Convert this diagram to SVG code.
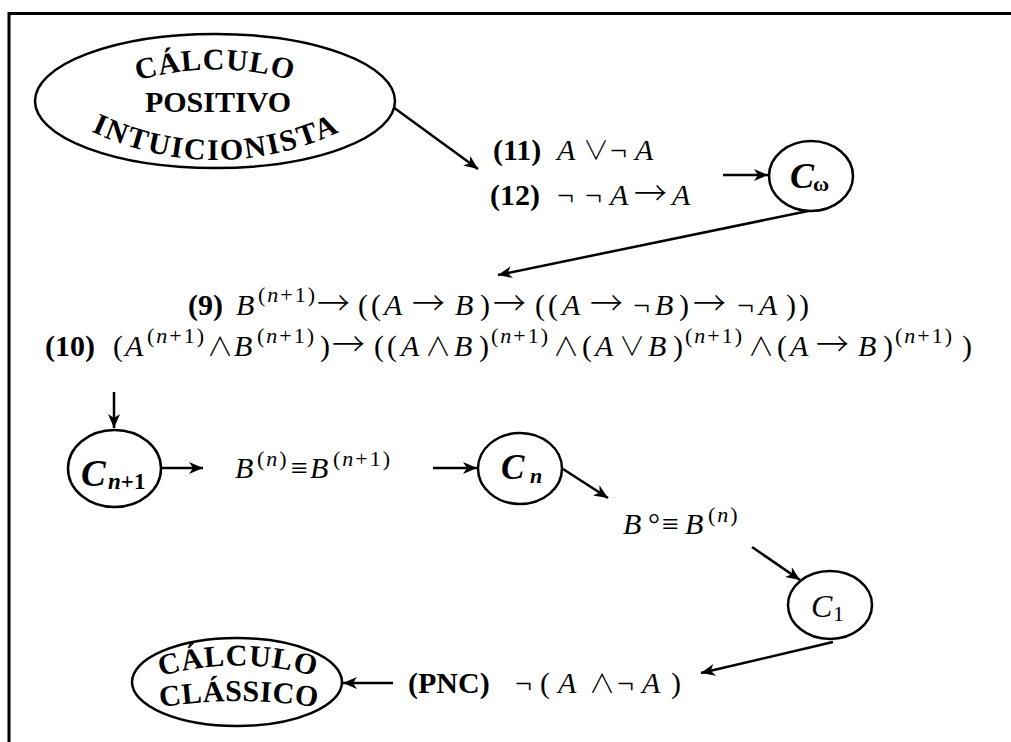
<svg xmlns="http://www.w3.org/2000/svg" width="1011" height="742" viewBox="0 0 1011 742">
<defs>
<marker id="ah" markerUnits="userSpaceOnUse" markerWidth="15" markerHeight="12" refX="14" refY="6" orient="auto">
<path d="M0,0 L14,6 L0,12 L4,6 z" fill="#000"/>
</marker>
<path id="p1" d="M126,84 Q215,55 304,84"/>
<path id="p2" d="M84,128 Q215,192 348,128"/>
<path id="p3" d="M158,677 Q238,654 318,677"/>
<path id="p4" d="M152,709 Q238,693 326,709"/>
</defs>
<style>
.t{font-family:"Liberation Serif","Times New Roman",serif;fill:#000;font-size:30px}
.b{font-weight:bold}
.i{font-style:italic}
.s{font-size:22px;letter-spacing:2px}
.op{font-family:"Noto Sans CJK JP","Noto Sans CJK SC","DejaVu Sans",sans-serif;font-weight:300;font-style:normal;font-size:26px}
.ar{font-family:"Noto Sans CJK JP","Noto Sans CJK SC","DejaVu Sans",sans-serif;font-weight:300;font-style:normal;font-size:33px}
.ln{stroke:#000;stroke-width:2.5;fill:none;marker-end:url(#ah)}
.nd{fill:#fff;stroke:#000;stroke-width:2.5}
</style>
<rect width="1011" height="742" fill="#fff"/>
<path d="M9,742 V13.5 H1011" fill="none" stroke="#000" stroke-width="3"/>

<g id="connectors">
<line class="ln" x1="393" y1="107" x2="478" y2="169"/>
<line class="ln" x1="723" y1="175" x2="768" y2="175"/>
<line class="ln" x1="813" y1="210" x2="498" y2="275"/>
<line class="ln" x1="114" y1="392" x2="114" y2="428"/>
<line class="ln" x1="161" y1="468" x2="203" y2="468"/>
<line class="ln" x1="433" y1="468" x2="477" y2="468"/>
<line class="ln" x1="563" y1="469" x2="608" y2="498"/>
<line class="ln" x1="752" y1="547" x2="800" y2="580"/>
<line class="ln" x1="833" y1="642" x2="701" y2="673"/>
<line class="ln" x1="393" y1="683" x2="343" y2="683"/>
</g>

<g id="node-intuicionista">
<ellipse class="nd" cx="215" cy="101" rx="180" ry="67"/>
<text class="t b" style="letter-spacing:1px"><textPath href="#p1" startOffset="50%" text-anchor="middle">CÁLCULO</textPath></text>
<text class="t b" x="218" y="112" text-anchor="middle">POSITIVO</text>
<text class="t b" style="letter-spacing:2px"><textPath href="#p2" startOffset="50%" text-anchor="middle">INTUICIONISTA</textPath></text>
</g>

<g id="axioms-11-12">
<text class="t" y="160"><tspan class="b" x="493">(11)</tspan><tspan class="i" x="557">A</tspan><tspan class="op" x="583">∨</tspan><tspan x="610">¬</tspan><tspan class="i" x="635">A</tspan></text>
<text class="t" y="205"><tspan class="b" x="490">(12)</tspan><tspan x="557">¬</tspan><tspan x="585">¬</tspan><tspan class="i" x="610">A</tspan><tspan class="ar" x="634">→</tspan><tspan class="i" x="672">A</tspan></text>
</g>

<g id="node-c-omega">
<ellipse class="nd" cx="811" cy="176" rx="42" ry="35"/>
<text class="t b i" x="790" y="188" style="font-size:36px">C</text>
<text class="t b" x="813" y="191" style="font-size:22px">ω</text>
</g>

<g id="axioms-9-10">
<text class="t" y="315"><tspan class="b" x="188">(9)</tspan><tspan class="i" x="236">B</tspan><tspan class="s" x="258" y="302">(<tspan class="i">n</tspan>+1)</tspan><tspan class="ar" x="317" y="315">→</tspan><tspan x="358">(</tspan><tspan x="371">(</tspan><tspan class="i" x="384">A</tspan><tspan class="ar" x="412">→</tspan><tspan class="i" x="455">B</tspan><tspan x="480">)</tspan><tspan class="ar" x="493">→</tspan><tspan x="535">(</tspan><tspan x="548">(</tspan><tspan class="i" x="562">A</tspan><tspan class="ar" x="590">→</tspan><tspan x="633">¬</tspan><tspan class="i" x="655">B</tspan><tspan x="679">)</tspan><tspan class="ar" x="693">→</tspan><tspan x="737">¬</tspan><tspan class="i" x="759">A</tspan><tspan x="786">)</tspan><tspan x="799">)</tspan></text>
<text class="t" y="356"><tspan class="b" x="45">(10)</tspan><tspan x="113">(</tspan><tspan class="i" x="125">A</tspan><tspan class="s" x="147" y="343">(<tspan class="i">n</tspan>+1)</tspan><tspan class="op" x="207" y="356">∧</tspan><tspan class="i" x="234">B</tspan><tspan class="s" x="257" y="343">(<tspan class="i">n</tspan>+1)</tspan><tspan x="320" y="356">)</tspan><tspan class="ar" x="332">→</tspan><tspan x="374">(</tspan><tspan x="387">(</tspan><tspan class="i" x="401">A</tspan><tspan class="op" x="425">∧</tspan><tspan class="i" x="454">B</tspan><tspan x="479">)</tspan><tspan class="s" x="491" y="343">(<tspan class="i">n</tspan>+1)</tspan><tspan class="op" x="553" y="356">∧</tspan><tspan x="582">(</tspan><tspan class="i" x="595">A</tspan><tspan class="op" x="619">∨</tspan><tspan class="i" x="648">B</tspan><tspan x="673">)</tspan><tspan class="s" x="685" y="343">(<tspan class="i">n</tspan>+1)</tspan><tspan class="op" x="748" y="356">∧</tspan><tspan x="777">(</tspan><tspan class="i" x="790">A</tspan><tspan class="ar" x="816">→</tspan><tspan class="i" x="858">B</tspan><tspan x="883">)</tspan><tspan class="s" x="895" y="343">(<tspan class="i">n</tspan>+1)</tspan><tspan x="962" y="356">)</tspan></text>
</g>

<g id="node-c-n1">
<ellipse class="nd" cx="114.5" cy="468.5" rx="46.5" ry="38.5"/>
<text class="t b i" x="81" y="486" style="font-size:37px">C</text>
<text class="t b" x="108" y="489" style="font-size:23px"><tspan class="i">n</tspan>+1</text>
</g>

<g id="eq-bn">
<text class="t" y="478"><tspan class="i" x="235">B</tspan><tspan class="s" x="257" y="466">(<tspan class="i">n</tspan>)</tspan><tspan x="291" y="478">≡</tspan><tspan class="i" x="310">B</tspan><tspan class="s" x="333" y="466">(<tspan class="i">n</tspan>+1)</tspan></text>
</g>

<g id="node-c-n">
<ellipse class="nd" cx="520" cy="468.5" rx="42" ry="35.5"/>
<text class="t b i" x="501" y="479" style="font-size:35px">C</text>
<text class="t b i" x="530" y="483" style="font-size:22px">n</text>
</g>

<g id="eq-bcirc">
<text class="t" y="534"><tspan class="i" x="623">B</tspan><tspan x="648">°</tspan><tspan x="662">≡</tspan><tspan class="i" x="685">B</tspan><tspan class="s" x="708" y="522">(<tspan class="i">n</tspan>)</tspan></text>
</g>

<g id="node-c1">
<ellipse class="nd" cx="830" cy="605" rx="42" ry="34"/>
<text class="t i" x="811" y="617" style="font-size:32px">C</text>
<text class="t" x="833" y="621" style="font-size:22px">1</text>
</g>

<g id="pnc">
<text class="t" y="693"><tspan class="b" x="408">(PNC)</tspan><tspan x="515">¬</tspan><tspan x="540">(</tspan><tspan class="i" x="558">A</tspan><tspan class="op" x="589">∧</tspan><tspan x="617">¬</tspan><tspan class="i" x="642">A</tspan><tspan x="671">)</tspan></text>
</g>

<g id="node-classico">
<ellipse class="nd" cx="237" cy="682" rx="105" ry="44"/>
<text class="t b" style="letter-spacing:1px"><textPath href="#p3" startOffset="50%" text-anchor="middle">CÁLCULO</textPath></text>
<text class="t b" style="letter-spacing:0.5px"><textPath href="#p4" startOffset="50%" text-anchor="middle">CLÁSSICO</textPath></text>
</g>
</svg>
